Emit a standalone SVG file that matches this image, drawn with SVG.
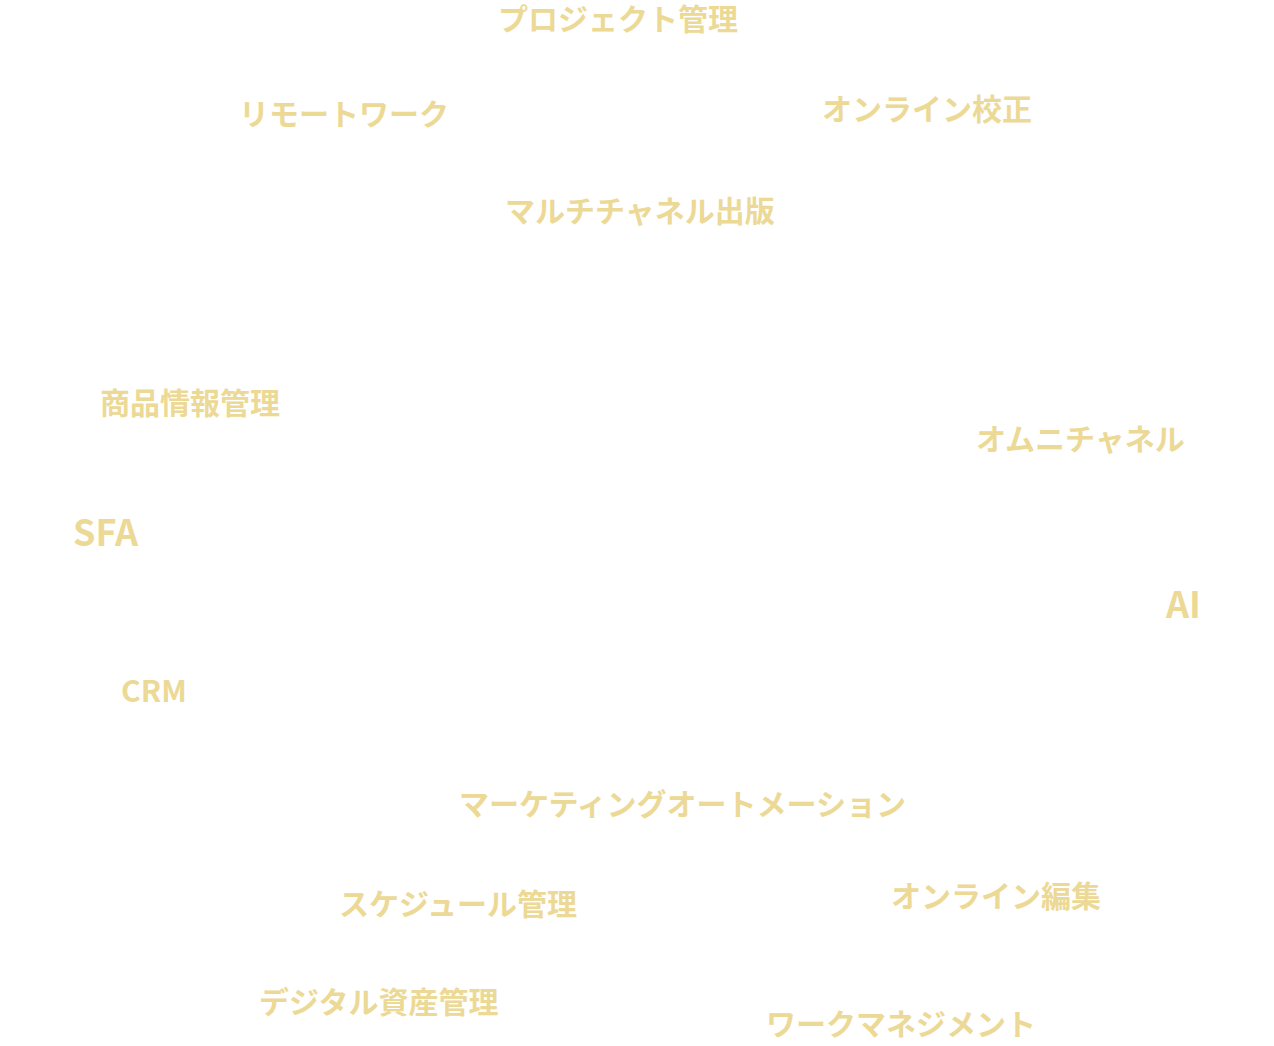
<svg xmlns="http://www.w3.org/2000/svg" width="1274" height="1046" viewBox="0 0 1274 1046">
<style>
text{font-family:"Noto Sans CJK JP","Noto Sans",sans-serif;font-weight:bold;fill:#ecd995;font-size:30px}
.b{font-size:36px}
</style>
<rect width="1274" height="1046" fill="#ffffff"/>
<g id="n1"><text x="498" y="30">プロジェクト管理</text></g>
<g id="n2"><text x="239" y="125">リモートワーク</text></g>
<g id="n3"><text x="822" y="120">オンライン校正</text></g>
<g id="n4"><text x="505" y="222">マルチチャネル出版</text></g>
<g id="n5"><text x="100" y="414">商品情報管理</text></g>
<g id="n6"><text x="976" y="450">オムニチャネル</text></g>
<g id="n7"><text class="b" x="73" y="546">SFA</text></g>
<g id="n8"><text class="b" x="1166" y="618">AI</text></g>
<g id="n9"><text x="121" y="702">CRM</text></g>
<g id="n10"><text x="459" y="815">マーケティングオートメーション</text></g>
<g id="n11"><text x="339" y="915">スケジュール管理</text></g>
<g id="n12"><text x="891" y="907">オンライン編集</text></g>
<g id="n13"><text x="259" y="1013">デジタル資産管理</text></g>
<g id="n14"><text x="766" y="1035">ワークマネジメント</text></g>
<g id="connectors"></g>
</svg>
